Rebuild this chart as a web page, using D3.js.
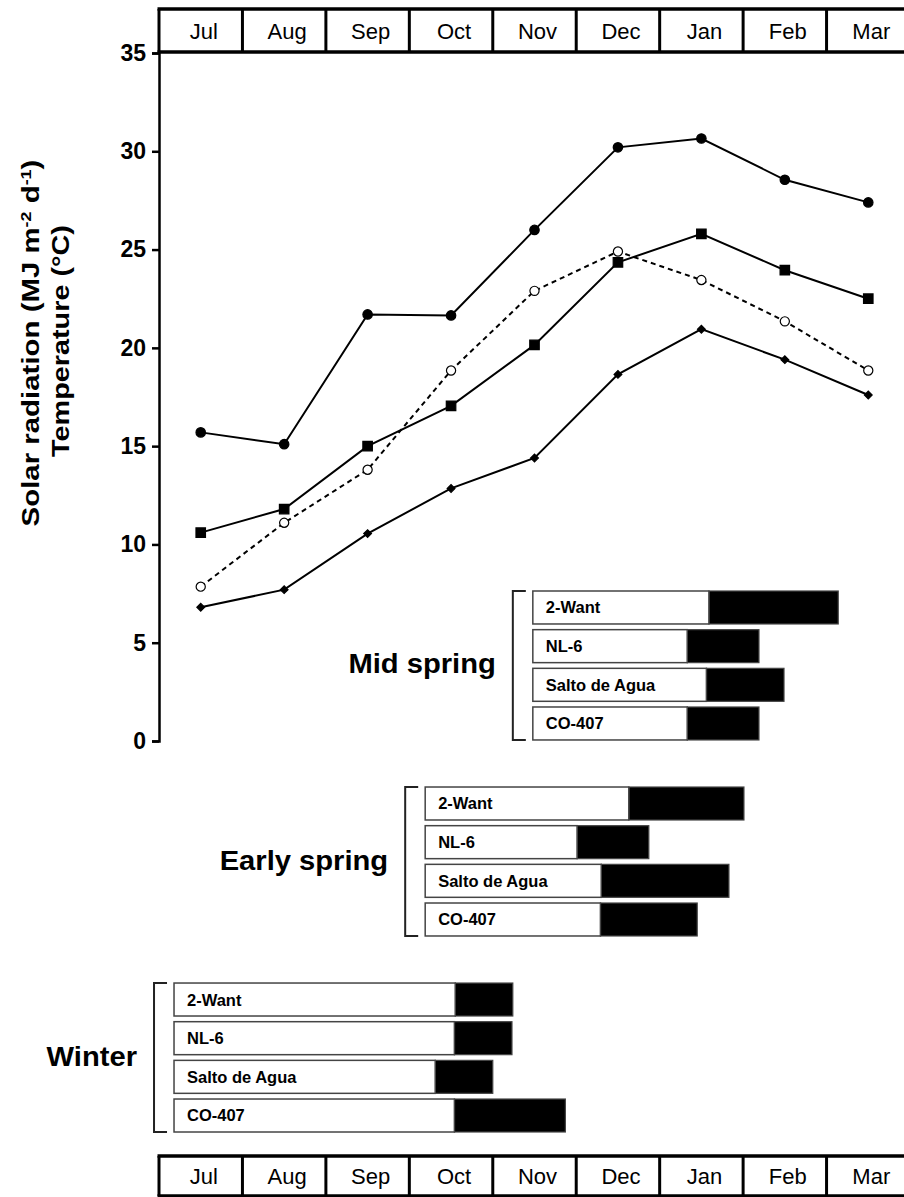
<!DOCTYPE html>
<html>
<head>
<meta charset="utf-8">
<script src="https://cdn.jsdelivr.net/npm/d3@7"></script>
<style>
  body { margin: 0; background: #fff; }
  svg { display: block; font-family: "Liberation Sans", Arial, sans-serif; }
</style>
</head>
<body>
<div id="chart"></div>
<script>
// ---------------- data ----------------
const months = ['Jul', 'Aug', 'Sep', 'Oct', 'Nov', 'Dec', 'Jan', 'Feb', 'Mar'];
const yTicks = [0, 5, 10, 15, 20, 25, 30, 35];

// monthly means
const solarRadiation = [15.7, 15.1, 21.7, 21.65, 26.0, 30.2, 30.65, 28.55, 27.4];
const tempSquare     = [10.6, 11.8, 15.0, 17.05, 20.15, 24.35, 25.8, 23.95, 22.5];
const tempOpen       = [7.85, 11.1, 13.8, 18.85, 22.9, 24.9, 23.45, 21.35, 18.85];
const tempDiamond    = [6.8, 7.7, 10.55, 12.85, 14.4, 18.65, 20.95, 19.4, 17.6];

// crop phases, in months since 1 Jul
const sowingGroups = ['Mid spring', 'Early spring', 'Winter'];
const cultivars = ['2-Want', 'NL-6', 'Salto de Agua', 'CO-407'];
const sowingDate = [4.48, 3.19, 0.18];
const phase1End = [
  [6.59, 6.33, 6.56, 6.33],
  [5.63, 5.01, 5.30, 5.29],
  [3.55, 3.54, 3.31, 3.54]
];
const phase2End = [
  [8.14, 7.19, 7.49, 7.19],
  [7.01, 5.87, 6.83, 6.45],
  [4.24, 4.23, 4.00, 4.87]
];

// ---------------- layout ----------------
const width = 904, height = 1197;
const svg = d3.select('#chart').append('svg')
  .attr('width', width)
  .attr('height', height);

const x = d3.scaleLinear().domain([0, months.length]).range([159, 910]);
const xBand = d3.scaleBand().domain(months).range(x.range());
const y = d3.scaleLinear().domain([0, 35]).range([741, 53]);

// ---------------- month strips ----------------
function monthStrip(top, bottom) {
  const g = svg.append('g');
  g.selectAll('line.div')
    .data(months)
    .join('line')
    .attr('x1', d => xBand(d)).attr('x2', d => xBand(d))
    .attr('y1', top).attr('y2', bottom)
    .attr('stroke', '#000').attr('stroke-width', 3);
  g.append('line')
    .attr('x1', x(0) - 1.5).attr('x2', width)
    .attr('y1', top).attr('y2', top)
    .attr('stroke', '#000').attr('stroke-width', 3.5);
  g.append('line')
    .attr('x1', x(0) - 1.5).attr('x2', width)
    .attr('y1', bottom).attr('y2', bottom)
    .attr('stroke', '#000').attr('stroke-width', 3.5);
  g.selectAll('text')
    .data(months)
    .join('text')
    .attr('x', d => xBand(d) + xBand.bandwidth() / 2 + 3)
    .attr('y', (top + bottom) / 2 + 8)
    .attr('text-anchor', 'middle')
    .style('font-size', '22px')
    .text(d => d);
}
monthStrip(9, 52);
monthStrip(1156, 1196);

// ---------------- y axis ----------------
const yAxis = svg.append('g')
  .attr('transform', `translate(${x(0)},0)`)
  .call(d3.axisLeft(y).tickValues(yTicks).tickSize(7).tickPadding(6));
yAxis.select('.domain').attr('stroke-width', 2.5);
yAxis.selectAll('.tick line').attr('stroke-width', 2.5);
yAxis.selectAll('.tick text')
  .style('font-size', '23px')
  .style('font-weight', 'bold')
  .style('font-family', '"Liberation Sans", Arial, sans-serif');

// y title, two rotated lines
const title1 = svg.append('text')
  .style('font-size', '23px').style('font-weight', 'bold')
  .attr('text-anchor', 'middle');
title1.append('tspan').text('Solar radiation (MJ m');
title1.append('tspan').attr('dy', -8).style('font-size', '14px').text('-2');
title1.append('tspan').attr('dy', 8).text(' d');
title1.append('tspan').attr('dy', -8).style('font-size', '14px').text('-1');
title1.append('tspan').attr('dy', 8).text(')');

const title2 = svg.append('text')
  .style('font-size', '23px').style('font-weight', 'bold')
  .attr('text-anchor', 'middle')
  .text('Temperature (°C)');

function fitRotated(t, cx, cy, len) {
  const w = t.node().getComputedTextLength();
  t.attr('transform', `translate(${cx},${cy}) rotate(-90) scale(${len / w},1)`);
}
fitRotated(title1, 39, 343, 367);
fitRotated(title2, 69, 341, 232);

// ---------------- series ----------------
const series = [
  { name: 'radiation', values: solarRadiation, symbol: d3.symbolCircle, size: 70, fill: '#000', dash: null, rot: 0 },
  { name: 'square', values: tempSquare, symbol: d3.symbolSquare, size: 90, fill: '#000', dash: null, rot: 0 },
  { name: 'open', values: tempOpen, symbol: d3.symbolCircle, size: 66, fill: '#fff', dash: '5,4', rot: 0 },
  { name: 'diamond', values: tempDiamond, symbol: d3.symbolSquare, size: 30, fill: '#000', dash: null, rot: 45 }
];

const line = d3.line()
  .x((d, i) => xBand(months[i]) + xBand.bandwidth() / 2)
  .y(d => y(d));

const plot = svg.append('g');
series.forEach(s => {
  plot.append('path')
    .datum(s.values)
    .attr('d', line)
    .attr('fill', 'none')
    .attr('stroke', '#000')
    .attr('stroke-width', 2)
    .attr('stroke-dasharray', s.dash);
});
series.forEach(s => {
  plot.selectAll(null)
    .data(s.values)
    .join('path')
    .attr('transform', (d, i) => `translate(${xBand(months[i]) + xBand.bandwidth() / 2},${y(d)}) rotate(${s.rot})`)
    .attr('d', d3.symbol(s.symbol, s.size))
    .attr('fill', s.fill)
    .attr('stroke', '#000')
    .attr('stroke-width', 1.2);
});

// ---------------- sowing date bars ----------------
const groupY = d3.scaleBand().domain(sowingGroups).range([591, 1132]).paddingInner(0.24);
const barY = d3.scaleBand().domain(cultivars).range([0, groupY.bandwidth()]).paddingInner(0.147);

sowingGroups.forEach((grp, gi) => {
  const g = svg.append('g').attr('transform', `translate(0,${groupY(grp)})`);
  const x0 = x(sowingDate[gi]);
  const h = groupY.bandwidth();

  // bracket
  g.append('path')
    .attr('d', `M${x0 - 7},0 H${x0 - 20} V${h} H${x0 - 7}`)
    .attr('fill', 'none')
    .attr('stroke', '#222')
    .attr('stroke-width', 2);

  g.append('text')
    .attr('text-anchor', 'end')
    .attr('transform', `translate(${x0 - 37},${h / 2 + 8}) scale(1.08,1)`)
    .style('font-size', '27px')
    .style('font-weight', 'bold')
    .text(grp);

  const rows = cultivars.map((c, ci) => ({ c, a: phase1End[gi][ci], b: phase2End[gi][ci] }));

  g.selectAll('rect.p2')
    .data(rows)
    .join('rect')
    .attr('x', d => x(d.a))
    .attr('y', d => barY(d.c))
    .attr('width', d => x(d.b) - x(d.a))
    .attr('height', barY.bandwidth())
    .attr('fill', '#000')
    .attr('stroke', '#444')
    .attr('stroke-width', 1.2);

  g.selectAll('rect.p1')
    .data(rows)
    .join('rect')
    .attr('x', x0)
    .attr('y', d => barY(d.c))
    .attr('width', d => x(d.a) - x0)
    .attr('height', barY.bandwidth())
    .attr('fill', '#fff')
    .attr('stroke', '#444')
    .attr('stroke-width', 1.5);

  g.selectAll('text.cv')
    .data(rows)
    .join('text')
    .attr('x', x0 + 13)
    .attr('y', d => barY(d.c) + barY.bandwidth() / 2 + 6)
    .style('font-size', '16.5px')
    .style('font-weight', 'bold')
    .text(d => d.c);
});
</script>
</body>
</html>
